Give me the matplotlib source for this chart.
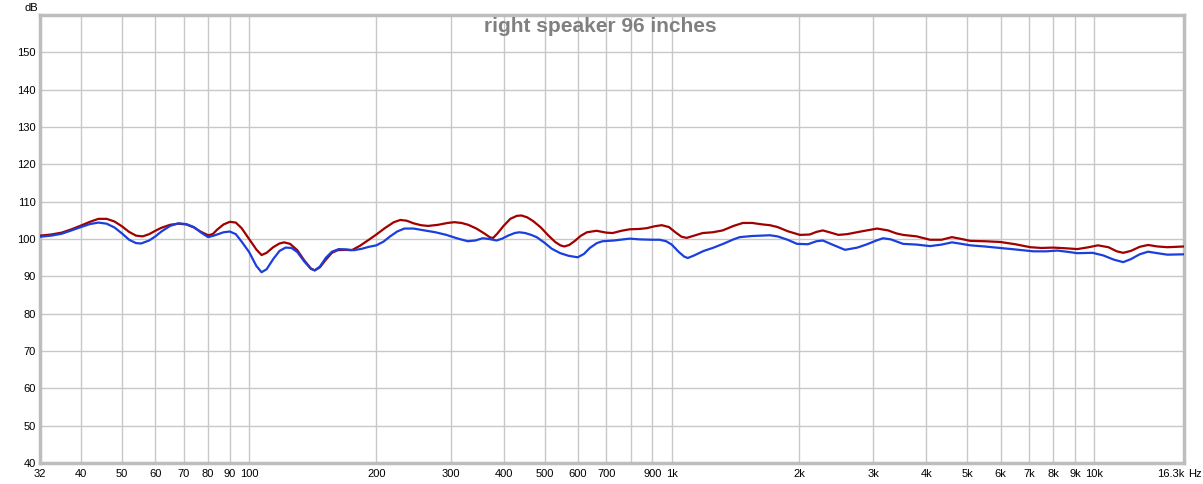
import matplotlib
matplotlib.use("Agg")
import matplotlib.pyplot as plt
from matplotlib.ticker import FixedLocator, FixedFormatter, NullLocator

# frequency response readings (Hz, dB)
red_freq = [32, 34, 36, 38, 40, 42, 44, 46, 48, 50, 52, 54, 56, 58, 60, 62,
            65, 68, 71, 74, 77, 80, 82, 84, 87, 90, 93, 96, 100, 104, 107, 110,
            114, 118, 121, 125, 130, 135, 140, 143, 147, 152, 157, 162, 168,
            175, 183, 192, 200, 210, 220, 228, 236, 245, 255, 265, 280, 295,
            306, 318, 330, 345, 360, 372, 378, 387, 400, 415, 430, 441, 455,
            470, 490, 510, 530, 545, 557, 572, 590, 610, 630, 664, 700, 725,
            760, 795, 840, 873, 910, 947, 985, 1020, 1055, 1085, 1130, 1184,
            1250, 1320, 1400, 1474, 1550, 1640, 1707, 1780, 1880, 2011, 2120,
            2200, 2278, 2380, 2480, 2600, 2800, 3061, 3250, 3400, 3526, 3800,
            4085, 4350, 4604, 4850, 5087, 5500, 5989, 6500, 7057, 7500, 8000,
            8600, 9118, 9700, 10200, 10800, 11300, 11700, 12200, 12800, 13400,
            14100, 14900, 16300]
red_db = [100.9, 101.2, 101.7, 102.6, 103.6, 104.6, 105.4, 105.4, 104.7,
          103.4, 101.9, 100.9, 100.7, 101.3, 102.2, 103.0, 103.8, 104.1, 103.9,
          103.1, 101.9, 101.0, 101.3, 102.5, 103.9, 104.6, 104.4, 102.9, 100.0,
          97.2, 95.7, 96.3, 97.8, 98.8, 99.1, 98.7, 97.0, 94.3, 92.1, 91.6,
          92.4, 94.5, 96.3, 97.0, 97.1, 97.0, 98.2, 99.8, 101.2, 103.0, 104.5,
          105.1, 104.9, 104.2, 103.7, 103.5, 103.8, 104.3, 104.5, 104.3, 103.8,
          102.8, 101.5, 100.4, 100.3, 101.5, 103.5, 105.4, 106.2, 106.3, 105.8,
          104.8, 103.1, 101.0, 99.2, 98.3, 98.0, 98.4, 99.5, 100.9, 101.8,
          102.2, 101.7, 101.6, 102.2, 102.6, 102.7, 102.9, 103.4, 103.7, 103.2,
          101.8, 100.6, 100.3, 100.9, 101.6, 101.8, 102.3, 103.5, 104.3, 104.3,
          103.9, 103.7, 103.2, 102.1, 101.1, 101.2, 101.9, 102.3, 101.7, 101.1,
          101.3, 102.0, 102.8, 102.3, 101.5, 101.1, 100.7, 99.8, 99.8, 100.5,
          100.0, 99.5, 99.4, 99.2, 98.6, 97.8, 97.6, 97.7, 97.5, 97.3, 97.8,
          98.3, 97.8, 96.7, 96.3, 96.8, 97.9, 98.4, 98.0, 97.8, 98.0]

blue_freq = [32, 34, 36, 38, 40, 42, 44, 46, 48, 50, 52, 54, 55.5, 58, 60, 62,
             65, 68, 71, 74, 77, 80, 83, 87, 90, 93, 96, 100, 104, 107, 110,
             114, 118, 122, 126, 130, 135, 140, 143, 147, 152, 157, 163, 170,
             177, 185, 192, 200, 208, 215, 224, 233, 245, 260, 276, 293, 310,
             329, 343, 357, 370, 385, 397, 410, 425, 436, 450, 465, 479, 500,
             520, 545, 570, 599, 620, 640, 665, 686, 730, 795, 840, 900, 937,
             970, 1000, 1040, 1070, 1091, 1130, 1190, 1250, 1330, 1400, 1449,
             1550, 1640, 1707, 1780, 1880, 1979, 2100, 2200, 2278, 2400, 2570,
             2750, 2900, 3050, 3162, 3300, 3526, 3800, 4085, 4350, 4604, 4850,
             5087, 5500, 5989, 6500, 7170, 7700, 8170, 8600, 9118, 9900, 10500,
             11100, 11700, 12200, 12800, 13400, 14100, 14900, 16300]
blue_db = [100.6, 100.9, 101.4, 102.3, 103.2, 104.0, 104.4, 104.1, 103.1,
           101.5, 99.8, 98.9, 98.8, 99.6, 100.7, 102.0, 103.5, 104.2, 104.0,
           103.2, 101.7, 100.5, 101.0, 101.8, 102.0, 101.3, 99.3, 96.5, 92.8,
           91.1, 91.9, 94.6, 96.8, 97.7, 97.6, 96.5, 94.0, 92.0, 91.6, 92.6,
           95.0, 96.6, 97.3, 97.2, 97.0, 97.4, 97.9, 98.3, 99.3, 100.6, 102.0,
           102.8, 102.8, 102.3, 101.8, 101.1, 100.2, 99.4, 99.6, 100.2, 100.0,
           99.6, 100.1, 100.9, 101.6, 101.8, 101.6, 101.1, 100.5, 99.0, 97.4,
           96.2, 95.5, 95.1, 96.0, 97.6, 98.9, 99.4, 99.6, 100.1, 99.9, 99.8,
           99.8, 99.4, 98.5, 96.5, 95.3, 94.9, 95.6, 96.8, 97.6, 98.8, 99.9,
           100.5, 100.8, 100.9, 101.0, 100.7, 99.8, 98.7, 98.6, 99.4, 99.6,
           98.5, 97.1, 97.7, 98.6, 99.6, 100.2, 99.9, 98.7, 98.5, 98.1, 98.5,
           99.1, 98.7, 98.3, 98.0, 97.6, 97.2, 96.7, 96.7, 96.9, 96.6, 96.2,
           96.3, 95.6, 94.5, 93.8, 94.6, 95.9, 96.6, 96.2, 95.8, 95.9]

grid_freqs = [40, 50, 60, 70, 80, 90, 100, 200, 300, 400, 500, 600, 700, 800,
              900, 1000, 2000, 3000, 4000, 5000, 6000, 7000, 8000, 9000, 10000]
label_freqs = [32, 40, 50, 60, 70, 80, 90, 100, 200, 300, 400, 500, 600, 700,
               900, 1000, 2000, 3000, 4000, 5000, 6000, 7000, 8000, 9000, 10000]
label_text = ["32", "40", "50", "60", "70", "80", "90", "100", "200", "300",
              "400", "500", "600", "700", "900", "1k", "2k", "3k", "4k", "5k",
              "6k", "7k", "8k", "9k", "10k"]
db_ticks = list(range(40, 151, 10))

plt.rcParams['font.family'] = ['Liberation Sans', 'DejaVu Sans']

fig = plt.figure(figsize=(12.03, 4.84), dpi=100)
ax = fig.add_axes([40 / 1203, 1 - 463 / 484, 1144 / 1203, 448 / 484])

ax.set_xscale('log')
ax.set_xlim(32, 16300)
ax.set_ylim(40, 160)

ax.xaxis.set_major_locator(FixedLocator(label_freqs))
ax.xaxis.set_major_formatter(FixedFormatter(label_text))
ax.xaxis.set_minor_locator(NullLocator())
ax.set_yticks(db_ticks)
ax.tick_params(axis='both', length=0, labelsize=8, colors='black')
ax.tick_params(axis='x', pad=4)
ax.tick_params(axis='y', pad=3)

for f in grid_freqs:
    ax.axvline(f, color='#c8c8c8', lw=1, zorder=1)
for d in db_ticks[1:]:
    ax.axhline(d, color='#c8c8c8', lw=1, zorder=1)

# extra labels at the edges
ax.text(16300, -0.024, "16.3k", transform=ax.get_xaxis_transform(),
        ha='right', va='center', fontsize=8)
ax.text(1.004, -0.024, "Hz", transform=ax.transAxes,
        ha='left', va='center', fontsize=8)
ax.text(-0.008, 1.005, "dB", transform=ax.transAxes,
        ha='center', va='bottom', fontsize=8)

ax.plot(red_freq, red_db, color='#a00000', lw=1.6, zorder=3)
ax.plot(blue_freq, blue_db, color='#1a3fdc', lw=1.6, zorder=4)

fig.text(600 / 1203, 1 - 27 / 484, "right speaker 96 inches", color='#808080',
         fontsize=15, fontweight='bold', ha='center', va='center')

for s in ax.spines.values():
    s.set_color('#bdbdbd')
    s.set_linewidth(2.5)

fig.savefig('out.png', dpi=100)
